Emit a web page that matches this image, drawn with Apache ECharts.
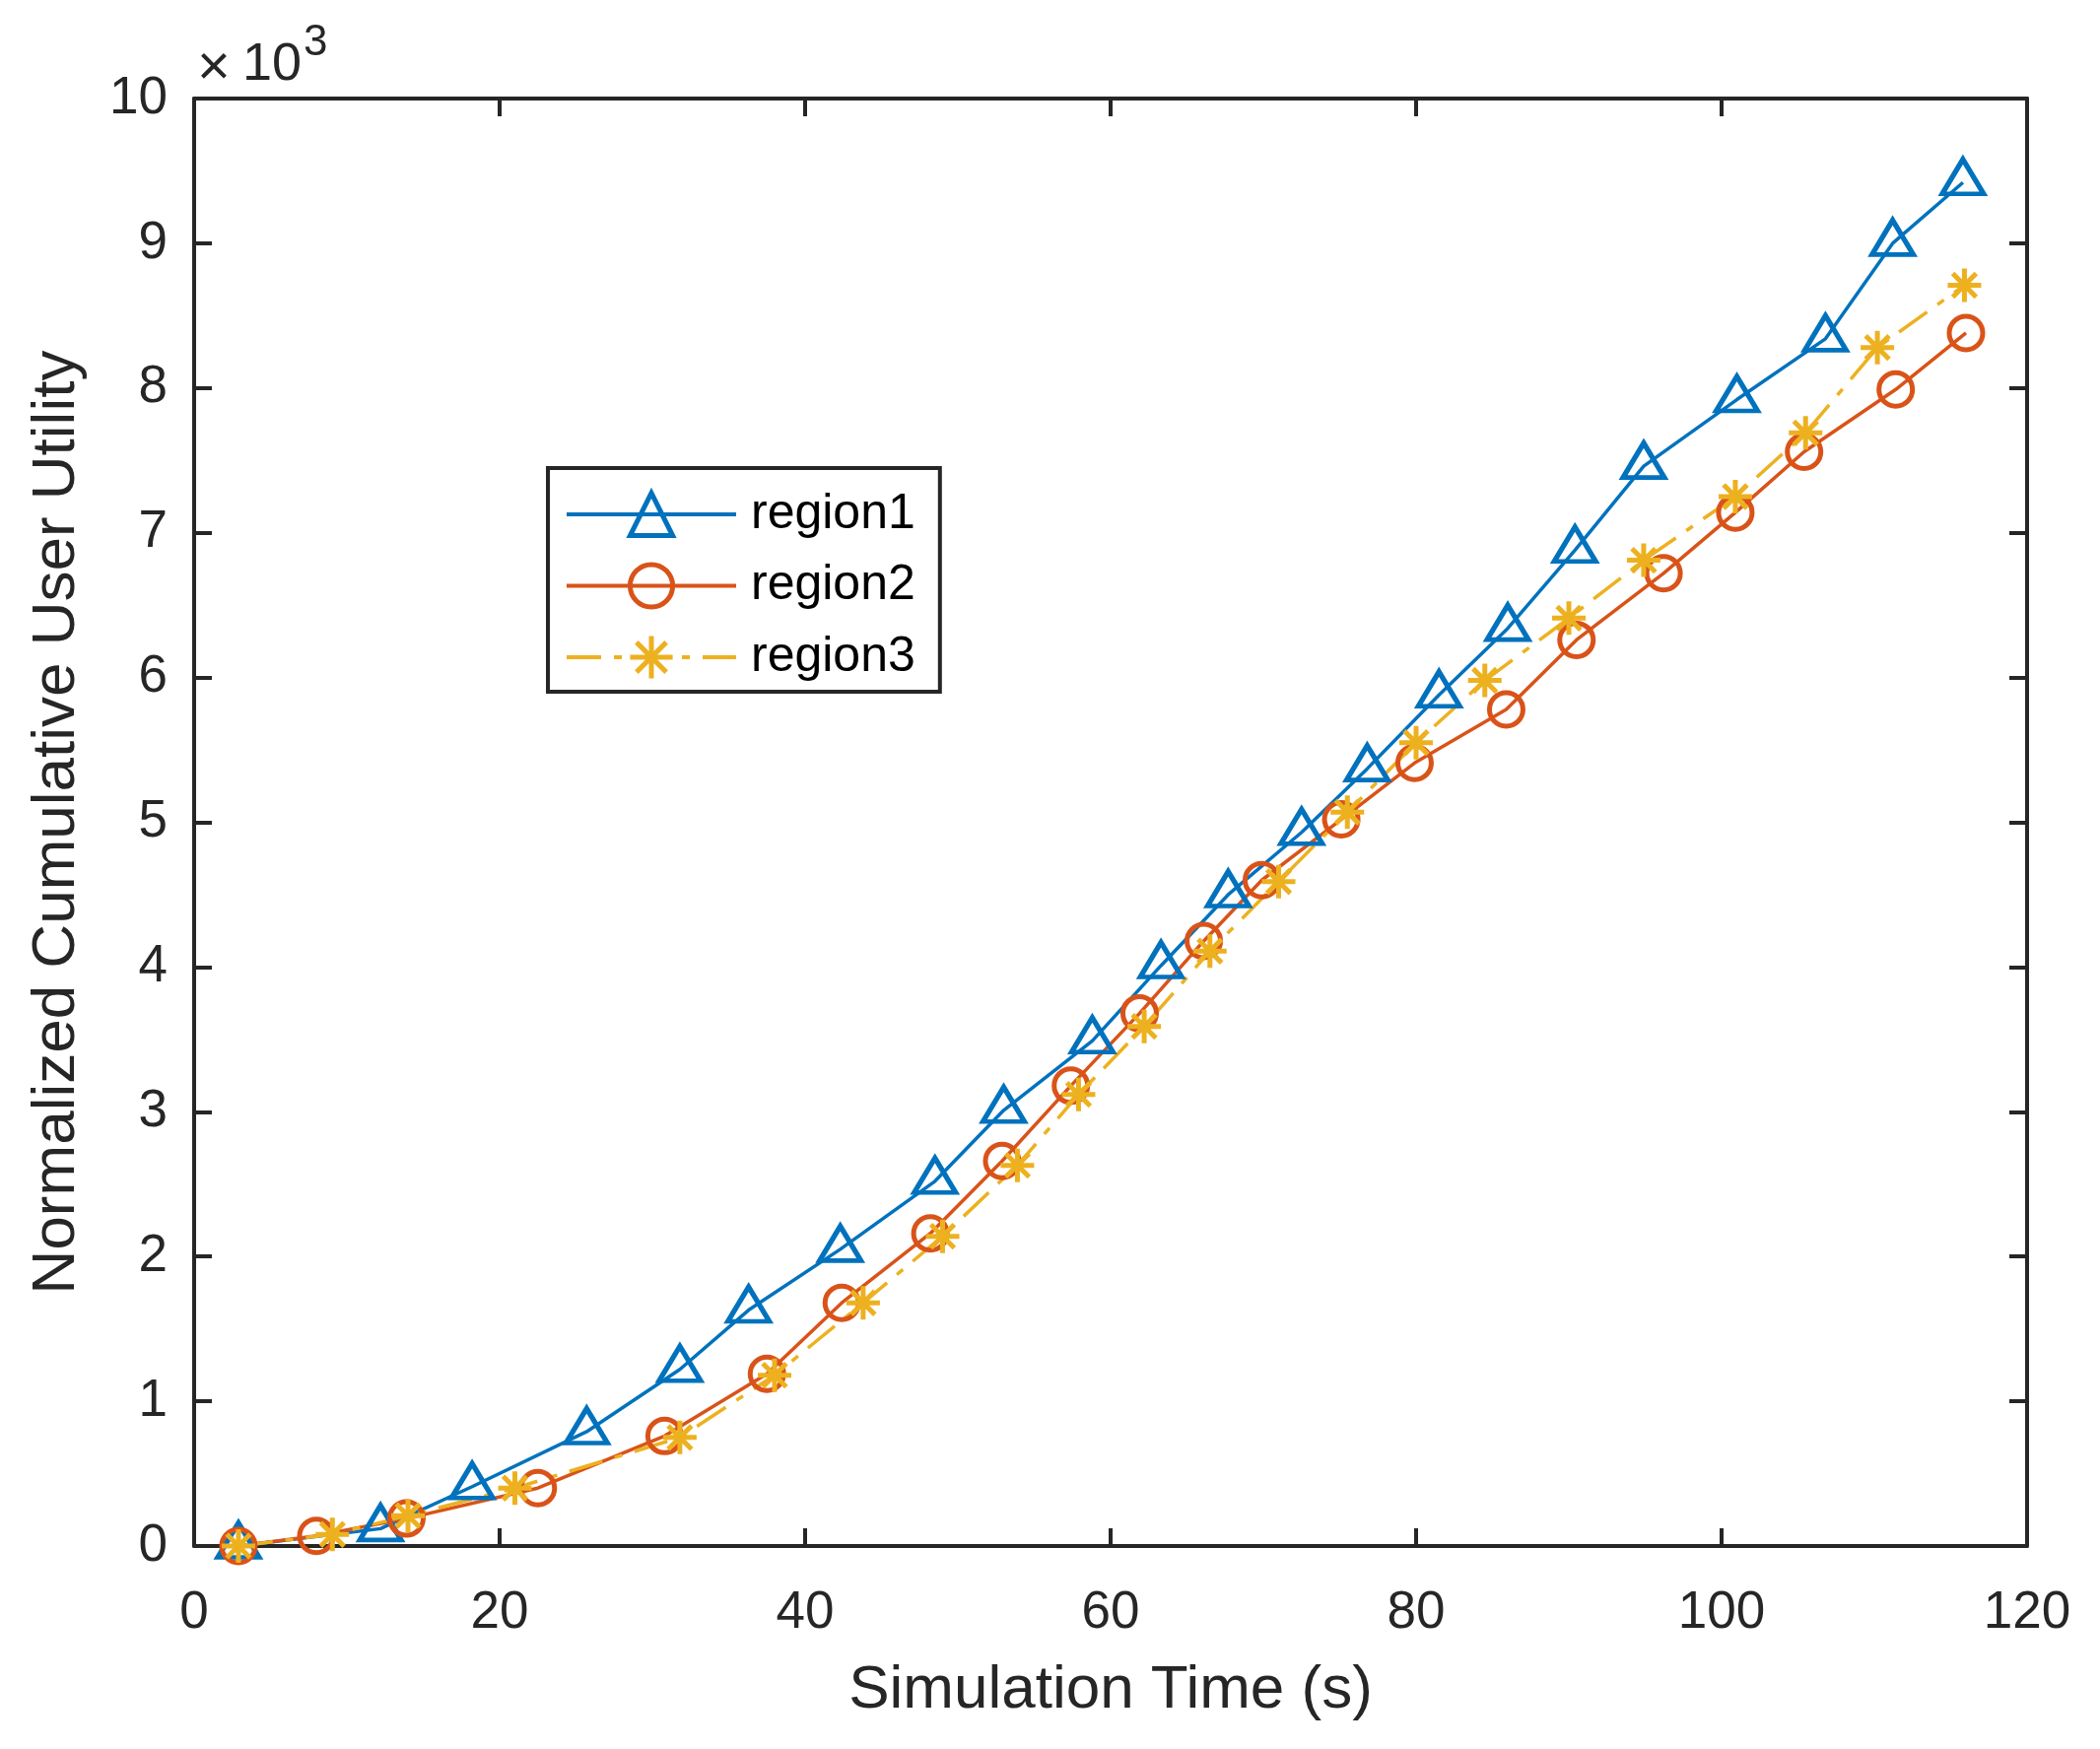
<!DOCTYPE html>
<html lang="en">

<head>
    <meta charset="UTF-8">
    <title>Normalized Cumulative User Utility</title>
    <style>
        html, body { margin: 0; padding: 0; background: #fff; }
    </style>
</head>

<body>
    <div id="main" style="width:2131px;height:1775px;"></div>
</body>
<script src="https://cdn.jsdelivr.net/npm/echarts@6/dist/echarts.min.js"></script>
<script>
    // simulation time (s) for each sample, per region
    var region1X = [2.9, 12.2, 18.2, 25.7, 31.8, 36.3, 42.3, 48.5, 53.0, 58.8, 63.3, 67.7, 72.5, 76.8, 81.5, 86.0, 90.4, 94.9, 101.0, 106.8, 111.2, 115.8]
    var region2X = [2.9, 8.0, 13.9, 22.5, 30.8, 37.5, 42.4, 48.2, 52.9, 57.4, 61.9, 66.1, 69.9, 75.1, 79.9, 85.9, 90.5, 96.2, 100.9, 105.4, 111.4, 116.0]
    var region3X = [2.9, 9.05, 14.0, 21.0, 31.8, 38.0, 43.8, 49.0, 53.9, 57.9, 62.2, 66.5, 71.0, 75.5, 80.0, 84.5, 90.0, 94.9, 100.9, 105.5, 110.2, 115.9]

    // utility, in units of 10^3
    var region1Y = [0, 0.12, 0.41, 0.79, 1.22, 1.63, 2.05, 2.52, 3.01, 3.49, 4.01, 4.50, 4.93, 5.37, 5.88, 6.34, 6.88, 7.46, 7.92, 8.34, 9.00, 9.42]
    var region2Y = [0, 0.07, 0.19, 0.40, 0.76, 1.19, 1.68, 2.16, 2.66, 3.18, 3.68, 4.18, 4.60, 5.02, 5.41, 5.78, 6.26, 6.72, 7.14, 7.56, 7.99, 8.38]
    var region3Y = [0, 0.08, 0.21, 0.40, 0.75, 1.18, 1.68, 2.14, 2.63, 3.12, 3.59, 4.11, 4.59, 5.07, 5.55, 5.98, 6.41, 6.81, 7.25, 7.69, 8.28, 8.71]

    var names = ['region1', 'region2', 'region3']

    function pairs(xs, ys) {
        var out = []
        for (var i = 0; i < xs.length; i++) {
            out.push([xs[i], ys[i]])
        }
        return out
    }

    var ink = '#262626'
    var font = '"Liberation Sans", Arial, Helvetica, sans-serif'
    var star = 'path://M0,-10L0,10M-10,0L10,0M-7,-7L7,7M-7,7L7,-7'

    // box style axes: lines on all four sides, ticks pointing inward
    var axisLine = { show: true, onZero: false, lineStyle: { color: ink, width: 4 } }
    var axisTick = { show: true, inside: true, length: 18, lineStyle: { color: ink, width: 4 } }

    var main = document.getElementById("main")
    var myChart = echarts.init(main)
    var option = {
        animation: false,
        backgroundColor: '#fff',
        grid: { left: 197, top: 100, width: 1860, height: 1469 },
        legend: {
            data: names,
            orient: 'vertical',
            left: 556,
            top: 475,
            itemWidth: 172,
            itemHeight: 54,
            itemGap: 22.5,
            padding: [22, 25, 10, 17],
            borderColor: ink,
            borderWidth: 4,
            backgroundColor: '#fff',
            lineStyle: { width: 4 },
            itemStyle: { borderWidth: 5 },
            textStyle: { fontFamily: font, fontSize: 50, color: '#000', padding: [0, 0, 0, 10] }
        },
        xAxis: [{
            type: 'value',
            min: 0,
            max: 120,
            interval: 20,
            name: 'Simulation Time (s)',
            nameLocation: 'middle',
            nameGap: 116,
            nameTextStyle: { fontFamily: font, fontSize: 62, color: ink },
            axisLine: axisLine,
            axisTick: axisTick,
            axisLabel: { fontFamily: font, fontSize: 53, color: ink, margin: 42 },
            splitLine: { show: false }
        }, {
            type: 'value',
            position: 'top',
            min: 0,
            max: 120,
            interval: 20,
            axisLine: axisLine,
            axisTick: axisTick,
            axisLabel: { show: false },
            splitLine: { show: false }
        }],
        yAxis: [{
            type: 'value',
            min: 0,
            max: 10,
            interval: 1,
            name: 'Normalized Cumulative User Utility',
            nameLocation: 'middle',
            nameGap: 108,
            nameTextStyle: { fontFamily: font, fontSize: 62, color: ink },
            axisLine: axisLine,
            axisTick: axisTick,
            axisLabel: { fontFamily: font, fontSize: 53, color: ink, margin: 27 },
            splitLine: { show: false }
        }, {
            type: 'value',
            position: 'right',
            min: 0,
            max: 10,
            interval: 1,
            axisLine: axisLine,
            axisTick: axisTick,
            axisLabel: { show: false },
            splitLine: { show: false }
        }],
        graphic: [
            { type: 'text', x: 200, y: 70, style: { text: '×', font: '58px ' + font, fill: ink, verticalAlign: 'middle' } },
            { type: 'text', x: 246, y: 66, style: { text: '10', font: '54px ' + font, fill: ink, verticalAlign: 'middle' } },
            { type: 'text', x: 308, y: 44, style: { text: '3', font: '44px ' + font, fill: ink, verticalAlign: 'middle' } }
        ],
        series: [{
            name: names[0],
            type: 'line',
            data: pairs(region1X, region1Y),
            symbol: 'triangle',
            symbolSize: [42, 35],
            symbolOffset: [0, -6],
            lineStyle: { color: '#0072BD', width: 3.5 },
            itemStyle: { color: 'transparent', borderColor: '#0072BD', borderWidth: 5 }
        }, {
            name: names[1],
            type: 'line',
            data: pairs(region2X, region2Y),
            symbol: 'circle',
            symbolSize: 34,
            lineStyle: { color: '#D95319', width: 3.5 },
            itemStyle: { color: 'transparent', borderColor: '#D95319', borderWidth: 5 }
        }, {
            name: names[2],
            type: 'line',
            data: pairs(region3X, region3Y),
            symbol: star,
            symbolSize: 34,
            lineStyle: { color: '#EDB120', width: 3.5, type: [35, 13, 8, 13] },
            itemStyle: { color: 'transparent', borderColor: '#EDB120', borderWidth: 5 }
        }]
    }
    myChart.setOption(option)
</script>

</html>
